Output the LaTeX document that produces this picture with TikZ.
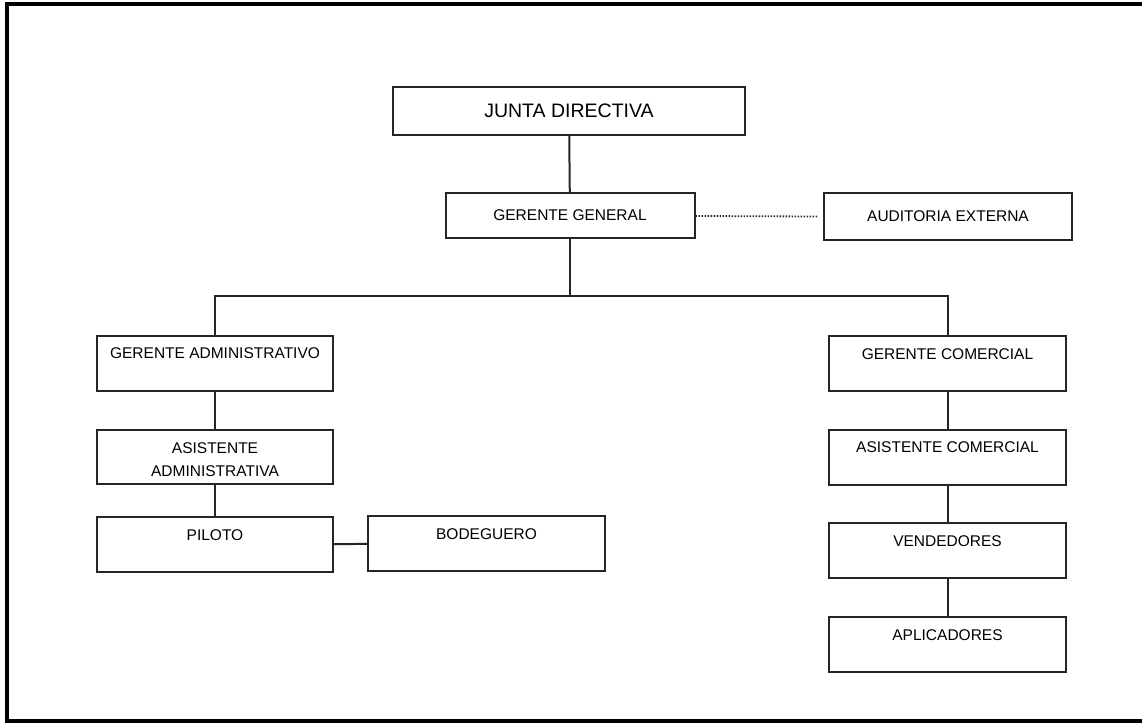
\documentclass[tikz,border=0pt]{standalone}
\usepackage{fontspec}
\setmainfont{Liberation Sans}
\usetikzlibrary{positioning}
\tikzset{
  puesto/.style={
    % The shape:
    rectangle,
    minimum width=236pt,
    % text sits in the upper part of the box
    text height=23.4pt, text depth=31.6pt,
    inner xsep=4pt, inner ysep=0pt,
    % The border:
    draw=black!85, line width=2pt,
    % Font
    font=\fontsize{15.5}{23}\selectfont, text=black, align=center},
  directiva/.style={
    rectangle,
    draw=black!85, line width=2pt,
    font=\fontsize{15.5}{18}\selectfont, text=black},
  enlace/.style={draw=black!85, line width=2pt},
  asesoria/.style={draw=black!85, line width=1.8pt, dash pattern=on 1.6pt off 1.4pt}
}

\begin{document}
\begin{tikzpicture}[x=1pt,y=-1pt]
  \useasboundingbox (0,0) rectangle (1142,723);
  % marco
  \draw[line width=4pt,black] (1160,4) -- (7,4) -- (7,721) -- (1160,721);

  \node (junta) [directiva, minimum width=352pt, minimum height=48pt,
                 font=\fontsize{19.5}{22}\selectfont] at (569,111) {JUNTA DIRECTIVA};
  \node (gerente)   [directiva, minimum width=249pt, minimum height=45pt] at (570,215.5) {GERENTE GENERAL};
  \node (auditoria) [directiva, minimum width=248pt, minimum height=47pt] at (948,216.5) {AUDITORIA EXTERNA};

  \node (gadmin)    [puesto] at (215,363)     {GERENTE ADMINISTRATIVO};
  % two lines: the last baseline is the reference
  \node (asadmin)   [puesto, text height=46.4pt, text depth=7.6pt] at (215,457) {ASISTENTE\\ADMINISTRATIVA};
  \node (piloto)    [puesto] at (215,544.5)   {PILOTO};
  \node (bodeguero) [puesto, minimum width=237pt] at (486.5,543.5) {BODEGUERO};

  \node (gcomercial)  [puesto, minimum width=237pt] at (947.5,363.5) {GERENTE COMERCIAL};
  \node (ascomercial) [puesto, minimum width=237pt] at (947.5,457)   {ASISTENTE COMERCIAL};
  \node (vendedores)  [puesto, minimum width=237pt] at (947.5,550.5) {VENDEDORES};
  \node (aplicadores) [puesto, minimum width=237pt] at (947.5,644.5) {APLICADORES};

  \coordinate (bus) at (570,296);

  \draw[enlace] (junta) -- (gerente);
  \draw[asesoria] (gerente) -- ([xshift=-5pt]auditoria.west);
  \draw[enlace] (gerente) -- (bus);
  \draw[enlace] (gadmin.north) |- (bus) -| (gcomercial.north);
  \draw[enlace] (gadmin) -- (asadmin);
  \draw[enlace] (asadmin) -- (piloto);
  \draw[enlace] (piloto) -- (bodeguero);
  \draw[enlace] (gcomercial) -- (ascomercial);
  \draw[enlace] (ascomercial) -- (vendedores);
  \draw[enlace] (vendedores) -- (aplicadores);
\end{tikzpicture}
\end{document}
